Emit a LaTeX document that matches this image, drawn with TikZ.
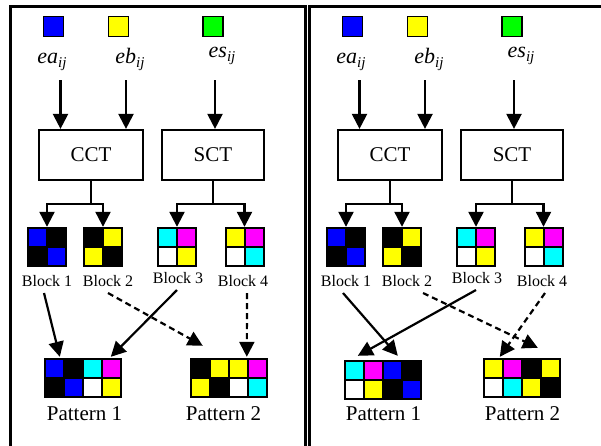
\documentclass[tikz,border=0pt]{standalone}
\usepackage{fontspec}
\setmainfont{Liberation Serif}
\usetikzlibrary{arrows.meta,calc}
\definecolor{cB}{RGB}{0,0,255}
\definecolor{cY}{RGB}{255,255,0}
\definecolor{cG}{RGB}{0,255,0}
\definecolor{cC}{RGB}{0,255,255}
\definecolor{cM}{RGB}{255,0,255}
\definecolor{cK}{RGB}{0,0,0}
\definecolor{cW}{RGB}{255,255,255}
\tikzset{
 arr/.style={line width=2.2pt, -{Triangle[width=15pt,length=15pt]}},
 dsh/.style={arr, dash pattern=on 6pt off 4pt},
 boxn/.style={draw, line width=2.2pt, minimum width=104pt, minimum height=50pt, inner sep=0, font=\fontsize{21}{21}\selectfont},
 csq/.style={draw, line width=1.8pt, minimum size=20pt, inner sep=0},
 blk/.style={fill=cK, minimum size=40pt, inner sep=0},
 pat/.style={fill=cK, minimum width=78pt, minimum height=40pt, inner sep=0},
 blab/.style={anchor=base, font=\fontsize{16}{16}\selectfont, inner sep=0},
 plab/.style={anchor=base, font=\fontsize{21}{21}\selectfont, inner sep=0},
 elab/.style={anchor=base, inner sep=0, font=\fontsize{22}{22}\selectfont\itshape},
 frame/.style={line width=2.4pt}
}
\newcommand\mysub[1]{\raisebox{-4pt}{\fontsize{15}{15}\selectfont #1}}
\newcommand\cblock[7]{%
 \node[blk] (#1) at (#2,#3) {};
 \begin{scope}[shift={(#2,#3)}]
 \fill[#4] (-18,-18) rectangle (-1,-1);
 \fill[#5] (1,-18) rectangle (18,-1);
 \fill[#6] (-18,1) rectangle (-1,18);
 \fill[#7] (1,1) rectangle (18,18);
 \end{scope}}
\newcommand\cpattern[5]{%
 \node[pat] (#1) at (#2,#3) {};
 \begin{scope}[shift={(#2,#3)}]
 \foreach \cc [count=\i] in {#4} \fill[\cc] ({-37+(\i-1)*19},-18) rectangle ++(17,17);
 \foreach \cc [count=\i] in {#5} \fill[\cc] ({-37+(\i-1)*19},1) rectangle ++(17,17);
 \end{scope}}
\newcommand\drawpanel[2]{%
\begin{scope}[shift={(#2,0)}]
 \node[csq, fill=cB] (#1-sa) at (53.5,26.5) {};
 \node[csq, fill=cY] (#1-sb) at (118.5,26.5) {};
 \node[csq, fill=cG] (#1-ss) at (213,26.5) {};
 \node[elab] (#1-ea) at (52,63) {ea\mysub{ij}};
 \node[elab] (#1-eb) at (130,63) {eb\mysub{ij}};
 \node[elab] (#1-es) at (222,57) {es\mysub{ij}};
 \node[boxn] (#1-cct) at (91,155) {CCT};
 \node[boxn, minimum width=102pt] (#1-sct) at (213,155) {SCT};
 \coordinate (#1-ta) at (60.5,80);
 \coordinate (#1-tb) at (126,80);
 \coordinate (#1-ts) at (215,80);
 \draw[arr] (#1-ta) -- (#1-ta |- #1-cct.north);
 \draw[arr] (#1-tb) -- (#1-tb |- #1-cct.north);
 \draw[arr] (#1-ts) -- (#1-ts |- #1-sct.north);
 \cblock{#1-b1}{47}{247}{cB}{cK}{cK}{cB}
 \cblock{#1-b2}{103}{247}{cK}{cY}{cY}{cK}
 \cblock{#1-b3}{177}{247}{cC}{cM}{cW}{cY}
 \cblock{#1-b4}{244.5}{247}{cY}{cM}{cW}{cC}
 \draw[arr] (#1-cct.south) -- ++(0,23) -| (#1-b1.north);
 \draw[arr] (#1-cct.south) -- ++(0,23) -| (#1-b2.north);
 \draw[arr] (#1-sct.south) -- ++(0,23) -| (#1-b3.north);
 \draw[arr] (#1-sct.south) -- ++(0,23) -| (#1-b4.north);
 \node[blab] (#1-lb1) at (47,286) {Block 1};
 \node[blab] (#1-lb2) at (108,286) {Block 2};
 \node[blab] (#1-lb3) at (178,283) {Block 3};
 \node[blab] (#1-lb4) at (243,286) {Block 4};
 \node[plab] (#1-lp1) at (84.5,420) {Pattern 1};
 \node[plab] (#1-lp2) at (223.5,420) {Pattern 2};
\end{scope}}
\begin{document}
\begin{tikzpicture}[x=1pt,y=-1pt]
\useasboundingbox (0,0) rectangle (601,445);
\clip (0,0) rectangle (601,445);
\fill[white] (0,0) rectangle (601,445);
\draw[frame] (10.5,460) -- (10.5,6.5) -- (305.5,6.5) -- (305.5,460);
\draw[frame] (309.5,460) -- (309.5,6.5) -- (620,6.5);
\drawpanel{L}{0}
\drawpanel{R}{299}
% left panel patterns
\cpattern{L-p1}{83}{378}{cB,cK,cC,cM}{cK,cB,cW,cY}
\cpattern{L-p2}{229}{378}{cK,cY,cY,cM}{cY,cK,cW,cC}
\draw[arr] ($(L-lb1.base)+(-3,7)$) -- ($(L-p1.north west)+(16,-1)$);
\draw[arr] ($(L-lb3.base)+(-1,7)$) -- ($(L-p1.north west)+(67,-1)$);
\draw[dsh] ($(L-lb2.base)+(0,7)$) -- ($(L-p2.north west)+(13,-12)$);
\draw[dsh] ($(L-lb4.base)+(4,7)$) -- ($(L-p2.north west)+(57,-1)$);
% right panel patterns
\cpattern{R-p1}{382.5}{380}{cC,cM,cB,cK}{cW,cY,cK,cB}
\cpattern{R-p2}{522}{378}{cY,cM,cK,cY}{cW,cC,cY,cK}
\draw[arr] ($(R-lb1.base)+(-3,7)$) -- ($(R-p1.north west)+(54.5,-4)$);
\draw[arr] ($(R-lb3.base)+(-1,7)$) -- ($(R-p1.north west)+(14.5,-4)$);
\draw[dsh] ($(R-lb2.base)+(16,7)$) -- ($(R-p2.north west)+(55,-10)$);
\draw[dsh] ($(R-lb4.base)+(3,7)$) -- ($(R-p2.north west)+(17,-1)$);
\end{tikzpicture}
\end{document}
